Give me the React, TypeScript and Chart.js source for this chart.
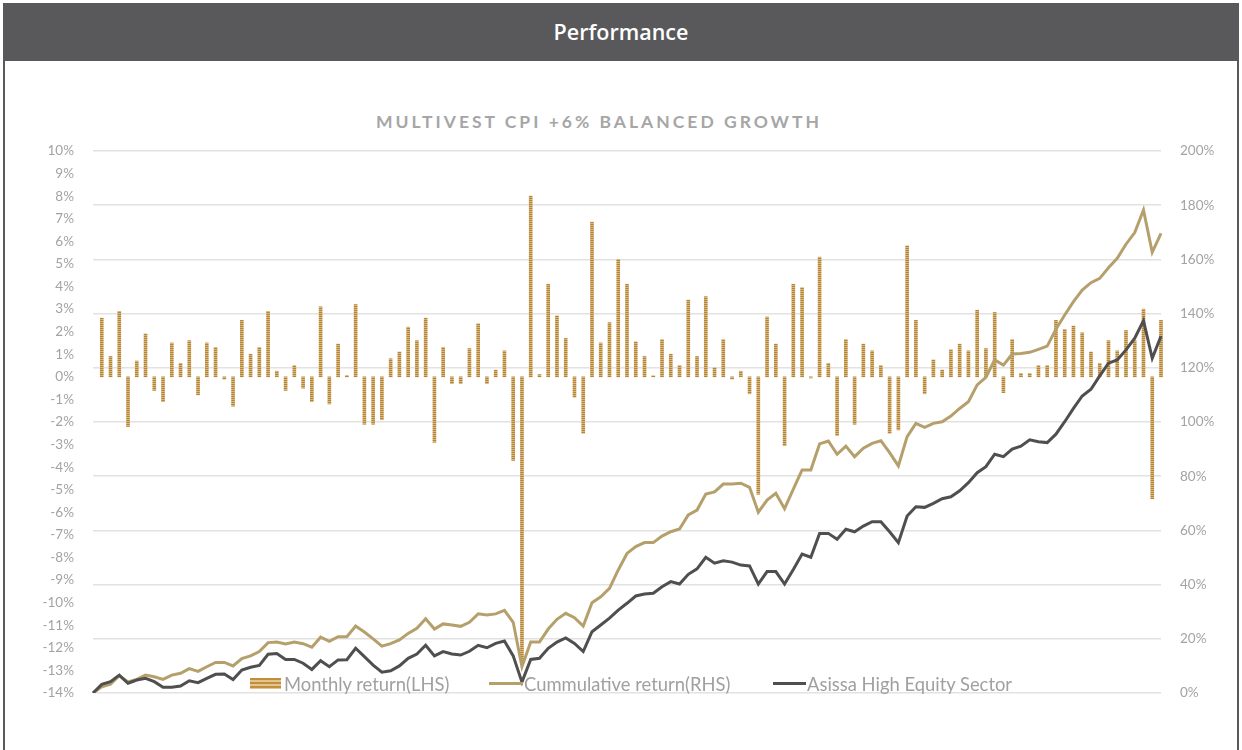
import React, { useEffect, useRef } from "react";
import { Chart, registerables } from "chart.js";

Chart.register(...registerables);

const monthlyReturn: (number | null)[] = [
  null,
  2.6, 0.9, 2.9, -2.2, 0.7, 1.9, -0.6, -1.1, 1.5, 0.6,
  1.6, -0.8, 1.5, 1.3, -0.1, -1.3, 2.5, 1.0, 1.3, 2.9,
  0.25, -0.6, 0.5, -0.5, -1.1, 3.1, -1.2, 1.45, 0.06, 3.2,
  -2.1, -2.1, -1.9, 0.8, 1.1, 2.2, 1.6, 2.6, -2.9, 1.3,
  -0.3, -0.3, 1.25, 2.35, -0.3, 0.3, 1.15, -3.7, -12.7, 8.0,
  0.1, 4.1, 2.7, 1.7, -0.9, -2.5, 6.85, 1.5, 2.4, 5.2,
  4.1, 1.55, 0.9, 0.05, 1.65, 1.0, 0.5, 3.4, 0.9, 3.55,
  0.4, 1.65, -0.1, 0.25, -0.75, -5.2, 2.65, 1.45, -3.05, 4.1,
  3.95, -0.05, 5.3, 0.6, -2.6, 1.65, -2.1, 1.45, 1.15, 0.5,
  -2.5, -2.35, 5.8, 2.5, -0.75, 0.75, 0.3, 1.2, 1.45, 1.15,
  2.95, 1.25, 2.85, -0.7, 1.65, 0.15, 0.15, 0.5, 0.5, 2.5,
  2.1, 2.25, 1.95, 1.1, 0.6, 1.6, 1.15, 2.05, 1.6, 3.0,
  -5.4, 2.5,
];

const cumulativeReturn: number[] = [
  0,
  2.3, 3.3, 6.4, 4.1, 5.0, 6.6, 6.0, 5.0, 6.6, 7.3,
  9.0, 8.0, 9.7, 11.3, 11.3, 10.0, 12.7, 13.7, 15.3, 18.6,
  18.8, 18.1, 18.8, 18.2, 16.9, 20.6, 19.1, 20.8, 20.8, 24.7,
  22.5, 20.0, 17.3, 18.2, 19.6, 22.0, 23.9, 27.4, 23.6, 25.5,
  25.1, 24.6, 26.1, 29.2, 28.8, 29.2, 30.5, 26.1, 9.7, 18.8,
  18.8, 23.6, 27.2, 29.4, 27.8, 24.7, 33.3, 35.5, 38.6, 45.4,
  51.5, 54.0, 55.5, 55.5, 57.9, 59.5, 60.5, 65.7, 67.5, 73.4,
  74.2, 77.1, 77.1, 77.4, 75.9, 66.7, 71.2, 73.7, 68.0, 75.2,
  82.3, 82.3, 91.9, 93.0, 88.1, 91.1, 87.2, 90.3, 92.1, 93.1,
  88.7, 83.8, 94.6, 99.5, 98.0, 99.5, 100.1, 102.2, 105.0, 107.5,
  113.7, 116.5, 122.9, 121.0, 125.1, 125.3, 125.7, 126.8, 128.0, 134.2,
  139.5, 144.4, 148.7, 151.4, 153.0, 156.9, 160.4, 165.6, 169.9, 178.2,
  162.6, 169.6,
];

const sectorReturn: number[] = [
  0,
  3.2, 4.2, 6.6, 3.6, 4.8, 5.4, 4.2, 2.1, 2.1, 2.6,
  4.5, 3.8, 5.4, 6.9, 7.0, 5.0, 8.5, 9.5, 10.2, 14.3,
  14.6, 12.4, 12.4, 11.0, 8.7, 11.9, 9.7, 12.2, 12.3, 16.5,
  13.4, 10.3, 7.7, 8.2, 10.0, 12.8, 14.4, 17.6, 13.7, 15.3,
  14.4, 14.0, 15.4, 17.6, 16.7, 18.3, 19.2, 13.7, 4.0, 12.4,
  12.8, 16.5, 18.8, 20.3, 18.3, 15.3, 22.6, 25.1, 27.6, 30.6,
  33.1, 35.8, 36.5, 36.8, 39.2, 41.1, 40.2, 43.8, 45.8, 50.1,
  47.9, 48.8, 48.3, 47.2, 46.9, 40.2, 44.8, 44.8, 40.2, 45.6,
  51.3, 50.1, 58.9, 58.9, 56.7, 60.4, 59.5, 61.6, 63.2, 63.2,
  59.5, 55.5, 65.3, 68.7, 68.5, 70.0, 71.7, 72.4, 74.6, 77.6,
  81.3, 83.5, 88.1, 87.2, 90.0, 91.1, 93.4, 92.7, 92.4, 95.5,
  100.1, 105.0, 109.6, 112.1, 117.0, 121.7, 122.9, 126.6, 130.9, 137.4,
  123.5, 131.7,
];

const monthLabels: string[] = cumulativeReturn.map((_, i) => `M${i}`);

const seriesNames = [
  "Monthly return(LHS)",
  "Cummulative return(RHS)",
  "Asissa High Equity Sector",
];

const chartTitle = "MULTIVEST CPI +6% BALANCED GROWTH";
const headerTitle = "Performance";

const GOLD_LINE = "#B5A06C";
const DARK_LINE = "#4F4F50";
const TICK_GRAY = "#A3A3A3";
const HEADER_GRAY = "#59595B";

export default function App() {
  const canvasRef = useRef<HTMLCanvasElement | null>(null);

  useEffect(() => {
    const canvas = canvasRef.current;
    if (!canvas) return;

    const pc = document.createElement("canvas");
    pc.width = 2;
    pc.height = 2;
    const pctx = pc.getContext("2d")!;
    pctx.fillStyle = "#B3843A";
    pctx.fillRect(0, 0, 2, 1);
    pctx.fillStyle = "#D8B77A";
    pctx.fillRect(0, 1, 2, 1);
    const ctx = canvas.getContext("2d")!;
    const barPattern = ctx.createPattern(pc, "repeat") || "#C09346";

    const tickFont = { family: "Lato", size: 13.5 };

    const chart = new Chart(canvas, {
      type: "bar",
      data: {
        labels: monthLabels,
        datasets: [
          {
            type: "line",
            label: seriesNames[2],
            data: sectorReturn,
            yAxisID: "y1",
            borderColor: DARK_LINE,
            backgroundColor: DARK_LINE,
            borderWidth: 3,
            pointRadius: 0,
            tension: 0,
            order: 0,
          },
          {
            type: "line",
            label: seriesNames[1],
            data: cumulativeReturn,
            yAxisID: "y1",
            borderColor: GOLD_LINE,
            backgroundColor: GOLD_LINE,
            borderWidth: 3,
            pointRadius: 0,
            tension: 0,
            order: 1,
          },
          {
            type: "bar",
            label: seriesNames[0],
            data: monthlyReturn,
            yAxisID: "y",
            backgroundColor: barPattern as any,
            borderWidth: 0,
            barThickness: 3,
            clip: false as any,
            order: 2,
          },
        ],
      },
      options: {
        animation: false,
        responsive: false,
        maintainAspectRatio: false,
        devicePixelRatio: 1,
        layout: { padding: { top: 151, bottom: 57, left: 0, right: 0 } },
        plugins: {
          legend: { display: false },
          title: { display: false },
          tooltip: { enabled: false },
        },
        scales: {
          x: {
            type: "category",
            offset: false,
            display: false,
            grid: { display: false },
          },
          y: {
            position: "left",
            min: -14,
            max: 10,
            afterFit: (s: any) => {
              s.width = 93;
            },
            ticks: {
              stepSize: 1,
              padding: 19,
              color: TICK_GRAY,
              font: tickFont,
              callback: (v: any) => `${v}%`,
            },
            grid: { display: false, drawTicks: false },
            border: { display: false },
          },
          y1: {
            position: "right",
            min: 0,
            max: 200,
            afterFit: (s: any) => {
              s.width = 81;
            },
            ticks: {
              stepSize: 20,
              padding: 19,
              color: TICK_GRAY,
              font: tickFont,
              callback: (v: any) => `${v}%`,
            },
            grid: { color: "#E2E2E2", lineWidth: 1.5, drawTicks: false },
            border: { display: false },
          },
        },
      },
    });

    return () => {
      chart.destroy();
    };
  }, []);

  const legendText: React.CSSProperties = {
    position: "absolute",
    top: 674,
    fontFamily: "Lato, sans-serif",
    fontSize: 18.4,
    lineHeight: "20px",
    color: "#A0A0A0",
    whiteSpace: "nowrap",
  };

  return (
    <div
      style={{
        position: "fixed",
        left: 0,
        top: 0,
        width: 1242,
        height: 750,
        background: "#ffffff",
        overflow: "hidden",
      }}
    >
      <div
        style={{
          position: "absolute",
          left: 3,
          top: 3,
          width: 1236,
          height: 58,
          background: HEADER_GRAY,
          color: "#ffffff",
          fontFamily: "'Open Sans', sans-serif",
          fontWeight: 600,
          fontSize: 21.5,
          lineHeight: "58px",
          textAlign: "center",
        }}
      >
        {headerTitle}
      </div>
      <div style={{ position: "absolute", left: 3, top: 3, width: 2, height: 747, background: HEADER_GRAY }} />
      <div style={{ position: "absolute", left: 1237, top: 3, width: 2, height: 747, background: HEADER_GRAY }} />
      <div
        style={{
          position: "absolute",
          left: 0,
          width: 1198,
          top: 110,
          textAlign: "center",
          fontFamily: "Lato, sans-serif",
          fontWeight: 700,
          fontSize: 17.5,
          letterSpacing: 3,
          lineHeight: "24px",
          color: "#A6A6A6",
        }}
      >
        {chartTitle}
      </div>
      <canvas
        ref={canvasRef}
        width={1242}
        height={750}
        style={{ position: "absolute", left: 0, top: 0, width: 1242, height: 750 }}
      />
      <div
        style={{
          position: "absolute",
          left: 250,
          top: 678,
          width: 31,
          height: 11,
          background:
            "repeating-linear-gradient(to bottom, #C08E3C 0px, #C08E3C 2px, #E2C48C 2px, #E2C48C 4px)",
        }}
      />
      <div style={{ ...legendText, left: 284 }}>{seriesNames[0]}</div>
      <div style={{ position: "absolute", left: 489, top: 682, width: 34, height: 3, background: GOLD_LINE }} />
      <div style={{ ...legendText, left: 524 }}>{seriesNames[1]}</div>
      <div style={{ position: "absolute", left: 773, top: 682, width: 33, height: 3, background: DARK_LINE }} />
      <div style={{ ...legendText, left: 807 }}>{seriesNames[2]}</div>
    </div>
  );
}
